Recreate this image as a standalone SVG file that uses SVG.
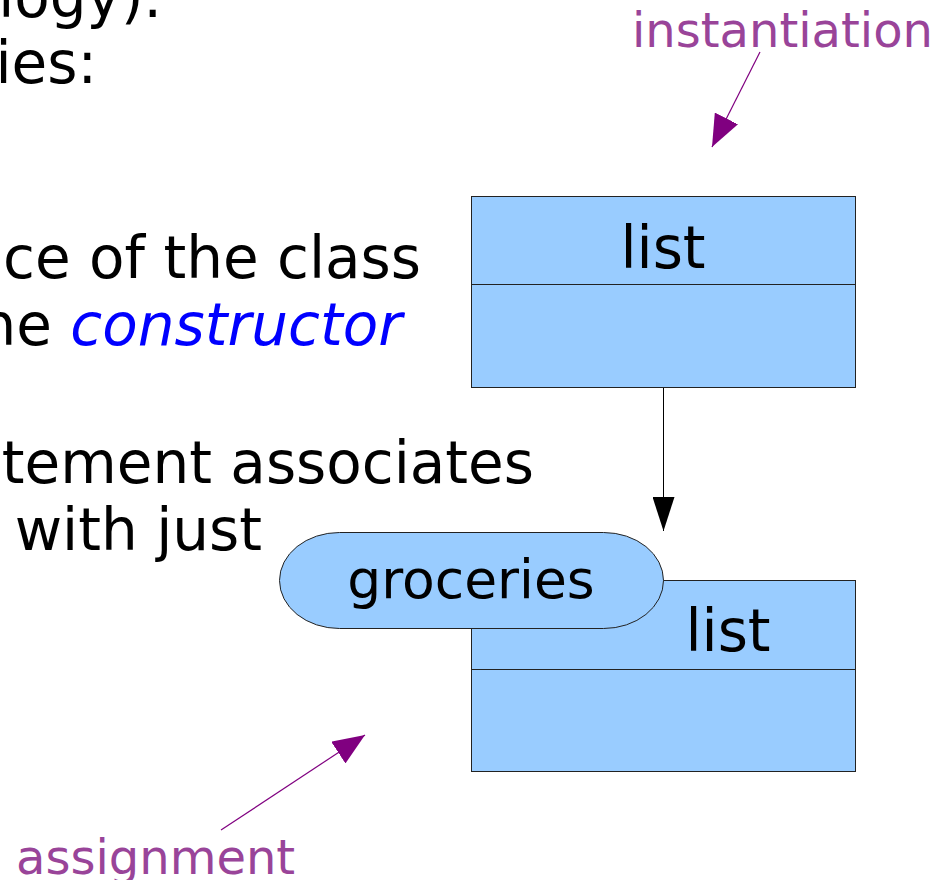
<svg xmlns="http://www.w3.org/2000/svg" width="943" height="880" viewBox="0 0 943 880">
<style>
.body{font-family:"DejaVu Sans",sans-serif;font-size:58px;fill:#000}
.note{font-family:"DejaVu Sans",sans-serif;font-size:48px;fill:#994499}
.box{fill:#99ccff;stroke:#222;stroke-width:1}
.lbl{font-family:"DejaVu Sans",sans-serif;font-size:58px;fill:#000;text-anchor:middle}
.pur{stroke:#800080;stroke-width:1.2;fill:none}
</style>
<defs>
<marker id="ap" markerUnits="userSpaceOnUse" markerWidth="34" markerHeight="26" refX="32" refY="13" orient="auto">
<path d="M0,0 L32,13 L0,26 Z" fill="#800080"/>
</marker>
<marker id="ab" markerUnits="userSpaceOnUse" markerWidth="36" markerHeight="22" refX="34" refY="11" orient="auto">
<path d="M0,0 L34,11 L0,22 Z" fill="#000"/>
</marker>
</defs>
<g id="bodytext">
<text class="body" x="162" y="17" text-anchor="end">logy).</text>
<text class="body" x="97" y="83" text-anchor="end">ies:</text>
<text class="body" x="421" y="278" text-anchor="end">ce of the class</text>
<text class="body" x="402" y="345" text-anchor="end">he <tspan font-style="italic" fill="#0000ff">constructor</tspan></text>
<text class="body" x="534" y="483" text-anchor="end">tement associates</text>
<text class="body" x="262" y="550" text-anchor="end">with just</text>
</g>
<g id="label-instantiation"><text class="note" x="632" y="47">instantiation</text></g>
<g id="label-assignment"><text class="note" x="16" y="874">assignment</text></g>
<g id="class-top">
<rect class="box" x="471.5" y="196.5" width="384" height="191"/>
<line x1="471.5" y1="284.5" x2="855.5" y2="284.5" stroke="#222" stroke-width="1"/>
<text class="lbl" x="663" y="268">list</text>
</g>
<g id="class-bottom">
<rect class="box" x="471.5" y="580.5" width="384" height="191"/>
<line x1="471.5" y1="669.5" x2="855.5" y2="669.5" stroke="#222" stroke-width="1"/>
<text class="lbl" x="728" y="651">list</text>
</g>
<g id="groceries">
<rect class="box" x="279.5" y="532.5" width="384" height="96" rx="60" ry="48"/>
<text class="lbl" x="471" y="598" style="font-size:53.5px">groceries</text>
</g>
<g id="connectors">
<line x1="663.5" y1="388" x2="663.5" y2="531" stroke="#000" stroke-width="1" marker-end="url(#ab)"/>
<line class="pur" x1="760" y1="52" x2="712" y2="147" marker-end="url(#ap)"/>
<line class="pur" x1="221" y1="830" x2="365" y2="735" marker-end="url(#ap)"/>
</g>
</svg>
